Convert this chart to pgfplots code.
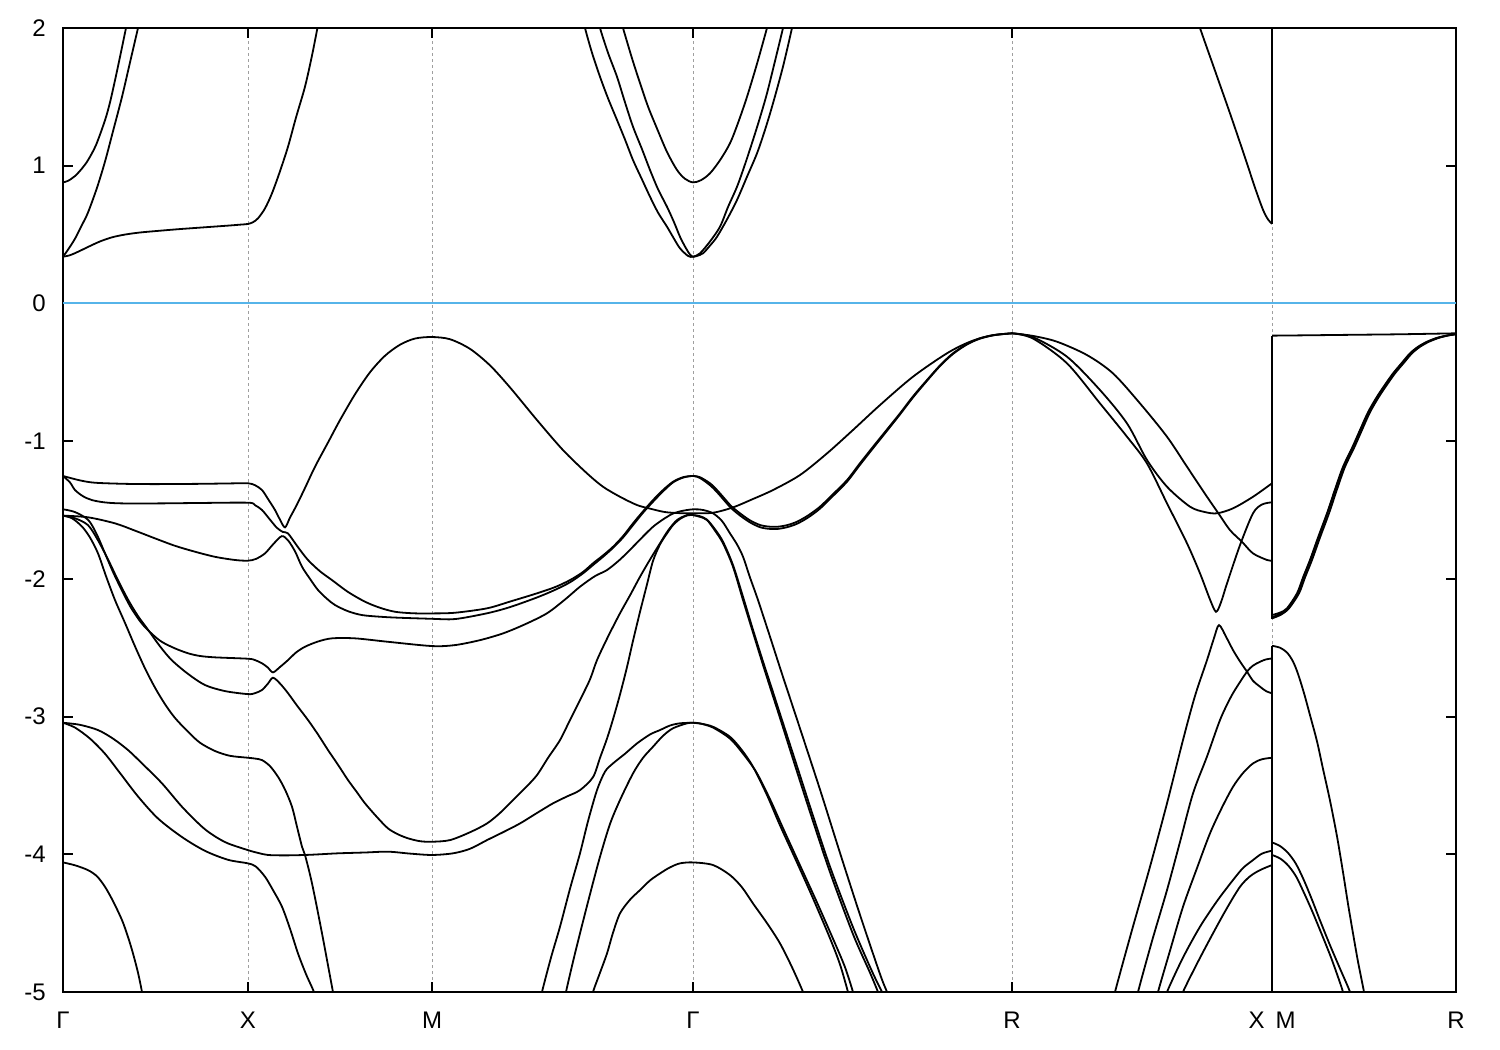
\documentclass[border=0pt]{standalone}
\usepackage{fontspec}
\setmainfont{Liberation Sans}
\usepackage{pgfplots}
\pgfplotsset{compat=1.18}
\definecolor{zeroblue}{RGB}{86,180,233}
\tikzset{band/.style={black, line width=0.9pt, smooth, tension=0.5},
         jump/.style={black, line width=0.9pt}}
\begin{document}
\fontsize{12}{14.4}\selectfont
\begin{tikzpicture}
\begin{axis}[
  scale only axis, width=696.5pt, height=482pt,
  xmin=63, xmax=1456, ymin=-5, ymax=2,
  axis line style={line width=1pt},
  tick style={line width=1pt, black}, major tick length=5pt,
  tick align=inside,
  xtick={63,248,432,693,1012,1272,1456},
  xticklabels={Γ,X,M,Γ,R,{X\hspace{5.5pt}M},R},
  ytick={-5,-4,-3,-2,-1,0,1,2},
  yticklabels={-5,-4,-3,-2,-1,0,1,2},
  xticklabel style={yshift=-6pt},
  yticklabel style={xshift=-4.5pt},
  xmajorgrids, grid style={gray!75, dash pattern=on 1.5pt off 1.5pt, line width=0.5pt},
]
\addplot[zeroblue, line width=1pt] coordinates {(63,0)(1456,0)};
% conduction bands
\addplot[band] coordinates {(63,0.339)(70,0.35)(78,0.375)(88,0.41)(100,0.45)(112,0.48)(125,0.50)(140,0.515)(160,0.528)(180,0.54)(205,0.553)(230,0.566)(240,0.572)(248,0.577)(253,0.59)(258,0.618)(265,0.69)(272,0.80)(280,0.96)(288,1.138)(296,1.35)(305,1.574)(312,1.80)(318,2.02)(320,2.08)};
\addplot[band] coordinates {(63,0.339)(68,0.39)(75,0.47)(82,0.57)(88,0.66)(97,0.84)(105,1.03)(113,1.25)(122,1.50)(130,1.75)(138,2.0)(140,2.07)};
\addplot[band] coordinates {(63,0.879)(68,0.89)(75,0.925)(82,0.98)(88,1.04)(96,1.15)(105,1.33)(110,1.46)(115,1.62)(120,1.79)(126,2.0)(128,2.07)};
\addplot[band] coordinates {(620,2.08)(623,2.0)(632,1.78)(640,1.60)(648,1.43)(657,1.27)(667,1.10)(677,0.969)(685,0.905)(693,0.879)(701,0.895)(710,0.945)(720,1.04)(730,1.163)(738,1.31)(747,1.50)(757,1.74)(767,2.0)(770,2.08)};
\addplot[band] coordinates {(583,2.08)(585,2.0)(592,1.82)(600,1.646)(608,1.49)(617,1.332)(625,1.19)(633,1.041)(642,0.90)(650,0.775)(658,0.66)(667,0.557)(674,0.47)(680,0.40)(688,0.345)(693,0.339)(700,0.364)(710,0.45)(720,0.557)(728,0.70)(737,0.847)(745,1.01)(753,1.187)(760,1.35)(767,1.526)(775,1.76)(783,2.0)(785,2.08)};
\addplot[band] coordinates {(598,2.08)(600,2.0)(608,1.82)(617,1.646)(625,1.46)(633,1.283)(642,1.12)(650,0.969)(658,0.83)(667,0.702)(674,0.59)(680,0.484)(686,0.40)(690,0.355)(693,0.339)(697,0.345)(703,0.364)(710,0.42)(717,0.484)(727,0.61)(737,0.751)(747,0.92)(757,1.09)(765,1.26)(773,1.453)(783,1.72)(792,2.0)(794,2.08)};
\addplot[band] coordinates {(1198,2.06)(1200,2.0)(1215,1.69)(1230,1.38)(1245,1.06)(1255,0.84)(1263,0.68)(1268,0.61)(1272,0.577)};
\addplot[jump] coordinates {(1272,0.577)(1272,2.1)};
% valence: Gamma-X-M-Gamma-R
\addplot[band] coordinates {(63,-1.253)(80,-1.285)(95,-1.302)(125,-1.31)(155,-1.312)(200,-1.31)(230,-1.307)(248,-1.306)(255,-1.32)(262,-1.355)(268,-1.42)(275,-1.50)(280,-1.57)(285,-1.626)(290,-1.555)(297,-1.46)(305,-1.34)(315,-1.186)(328,-1.01)(340,-0.847)(355,-0.66)(370,-0.50)(385,-0.38)(400,-0.30)(415,-0.255)(432,-0.244)(450,-0.26)(470,-0.33)(490,-0.45)(510,-0.61)(537,-0.847)(563,-1.065)(587,-1.234)(603,-1.331)(620,-1.404)(637,-1.464)(650,-1.49)(665,-1.515)(680,-1.523)(693,-1.524)(713,-1.52)(733,-1.481)(753,-1.42)(773,-1.355)(800,-1.246)(827,-1.089)(853,-0.919)(880,-0.738)(913,-0.532)(947,-0.362)(970,-0.278)(990,-0.235)(1012,-0.217)};
\addplot[band] coordinates {(63,-1.253)(70,-1.30)(75,-1.355)(83,-1.40)(92,-1.428)(105,-1.445)(122,-1.452)(160,-1.452)(200,-1.449)(248,-1.447)(255,-1.465)(262,-1.50)(270,-1.57)(277,-1.63)(283,-1.66)(288,-1.67)(298,-1.77)(308,-1.863)(320,-1.945)(332,-2.009)(348,-2.095)(365,-2.166)(380,-2.21)(395,-2.239)(413,-2.25)(432,-2.251)(455,-2.246)(487,-2.214)(510,-2.165)(537,-2.105)(555,-2.06)(570,-2.009)(583,-1.95)(593,-1.887)(603,-1.83)(613,-1.767)(623,-1.69)(633,-1.597)(643,-1.51)(653,-1.428)(663,-1.355)(673,-1.295)(683,-1.262)(693,-1.253)(700,-1.262)(710,-1.306)(717,-1.355)(723,-1.404)(731,-1.47)(740,-1.524)(750,-1.575)(760,-1.609)(768,-1.62)(777,-1.622)(787,-1.61)(797,-1.585)(808,-1.54)(820,-1.476)(833,-1.385)(847,-1.283)(860,-1.16)(873,-1.041)(887,-0.915)(900,-0.798)(913,-0.675)(927,-0.556)(940,-0.45)(953,-0.362)(967,-0.295)(980,-0.253)(995,-0.228)(1012,-0.217)};
\addplot[band] coordinates {(63,-1.541)(88,-1.553)(115,-1.597)(135,-1.65)(155,-1.706)(175,-1.76)(195,-1.803)(215,-1.84)(235,-1.863)(248,-1.868)(256,-1.855)(265,-1.815)(273,-1.75)(281.7,-1.69)(288,-1.72)(295,-1.80)(302,-1.912)(310,-2.0)(318,-2.081)(327,-2.145)(335,-2.19)(348,-2.235)(362,-2.263)(380,-2.275)(398,-2.282)(432,-2.29)(455,-2.292)(487,-2.25)(510,-2.205)(537,-2.135)(555,-2.08)(570,-2.025)(583,-1.96)(593,-1.90)(603,-1.84)(613,-1.775)(623,-1.70)(633,-1.61)(643,-1.52)(653,-1.44)(663,-1.365)(673,-1.30)(683,-1.265)(693,-1.253)(700,-1.268)(710,-1.32)(717,-1.37)(723,-1.42)(731,-1.485)(740,-1.54)(750,-1.59)(760,-1.625)(768,-1.636)(777,-1.638)(787,-1.625)(797,-1.60)(808,-1.555)(820,-1.49)(833,-1.398)(847,-1.295)(860,-1.172)(873,-1.052)(887,-0.925)(900,-0.806)(913,-0.683)(927,-0.562)(940,-0.455)(953,-0.367)(967,-0.298)(980,-0.256)(995,-0.229)(1012,-0.217)};
\addplot[band] coordinates {(63,-1.495)(75,-1.515)(88.3,-1.573)(97,-1.68)(105,-1.815)(113,-1.95)(121.7,-2.081)(131,-2.21)(141.7,-2.323)(152,-2.40)(161.7,-2.457)(175,-2.505)(188.3,-2.541)(200,-2.56)(215,-2.57)(248,-2.58)(255,-2.59)(262,-2.613)(268,-2.645)(273,-2.679)(280,-2.64)(288,-2.59)(296,-2.535)(305,-2.493)(318,-2.455)(332,-2.432)(355,-2.432)(388,-2.457)(432,-2.488)(455,-2.481)(480,-2.445)(503,-2.396)(525,-2.33)(547,-2.25)(565,-2.15)(580,-2.057)(595,-1.98)(607,-1.936)(620,-1.86)(633,-1.767)(653,-1.622)(670,-1.537)(680,-1.51)(693,-1.495)(703,-1.50)(713,-1.524)(722,-1.58)(730,-1.67)(737,-1.75)(743,-1.839)(750,-1.99)(758,-2.154)(770,-2.42)(782,-2.69)(797,-3.02)(820,-3.53)(840,-3.99)(860,-4.44)(880,-4.87)(887,-5.0)(890,-5.06)};
\addplot[band] coordinates {(63,-1.541)(75,-1.56)(88,-1.61)(98,-1.72)(108.3,-1.863)(118,-2.01)(128.3,-2.154)(138,-2.27)(148.3,-2.372)(160,-2.49)(171.7,-2.59)(188,-2.69)(205,-2.771)(225,-2.815)(248,-2.837)(255,-2.83)(262,-2.807)(268,-2.76)(273,-2.718)(280,-2.76)(288,-2.83)(297,-2.92)(308,-3.025)(318,-3.13)(328,-3.243)(338,-3.35)(348,-3.461)(357,-3.55)(365,-3.63)(377,-3.73)(388,-3.812)(398,-3.855)(408,-3.884)(420,-3.905)(432,-3.909)(450,-3.897)(470,-3.84)(487,-3.776)(500,-3.70)(513,-3.606)(525,-3.52)(537,-3.425)(548,-3.30)(560,-3.171)(570,-3.025)(580,-2.88)(590,-2.73)(597,-2.59)(608,-2.42)(620,-2.25)(630,-2.12)(640,-1.985)(650,-1.86)(660,-1.742)(668,-1.65)(677,-1.573)(687,-1.537)(693,-1.537)(700,-1.55)(707,-1.573)(715,-1.65)(723,-1.742)(733,-1.912)(743,-2.154)(753,-2.39)(763,-2.625)(772,-2.83)(780,-3.01)(797,-3.40)(813,-3.76)(830,-4.13)(853,-4.58)(870,-4.86)(878,-5.0)(881,-5.06)};
\addplot[band] coordinates {(63,-1.541)(72,-1.56)(82,-1.62)(90,-1.70)(98,-1.815)(106,-1.98)(115,-2.154)(125,-2.32)(135,-2.49)(145,-2.65)(155,-2.79)(165,-2.91)(175,-3.01)(188,-3.11)(200,-3.19)(215,-3.25)(230,-3.285)(248,-3.299)(255,-3.305)(262,-3.316)(270,-3.36)(278,-3.437)(285,-3.53)(292,-3.655)(297,-3.80)(302,-3.945)(305,-4.005)(312,-4.211)(322,-4.574)(333,-5.0)(335,-5.06)};
\addplot[band] coordinates {(63,-3.045)(80,-3.06)(98,-3.098)(113,-3.16)(128,-3.243)(142,-3.34)(162,-3.485)(182,-3.655)(202,-3.80)(215,-3.87)(228,-3.921)(248,-3.97)(258,-3.99)(268,-4.005)(285,-4.008)(305,-4.005)(320,-4.0)(338,-3.993)(365,-3.987)(388,-3.981)(410,-3.995)(432,-4.005)(453,-3.993)(470,-3.96)(487,-3.897)(503,-3.84)(520,-3.776)(537,-3.70)(553,-3.63)(567,-3.58)(580,-3.534)(593,-3.44)(600,-3.30)(607,-3.16)(613,-3.02)(620,-2.84)(627,-2.64)(633,-2.45)(640,-2.24)(647,-2.04)(653,-1.87)(660,-1.75)(667,-1.67)(673,-1.61)(680,-1.565)(687,-1.54)(693,-1.537)(700,-1.545)(707,-1.57)(715,-1.64)(723,-1.73)(733,-1.90)(743,-2.13)(753,-2.37)(763,-2.60)(772,-2.80)(780,-2.98)(797,-3.36)(813,-3.72)(830,-4.09)(853,-4.53)(872,-4.85)(882,-5.0)(885,-5.06)};
\addplot[band] coordinates {(63,-3.045)(75,-3.08)(90,-3.16)(105,-3.27)(120,-3.41)(138,-3.58)(158,-3.74)(182,-3.875)(205,-3.975)(228,-4.04)(248,-4.066)(256,-4.09)(265,-4.163)(273,-4.26)(282,-4.381)(290,-4.54)(298,-4.72)(306,-4.87)(314,-5.0)(316,-5.06)};
\addplot[band] coordinates {(63,-4.059)(75,-4.08)(88,-4.115)(97,-4.16)(105,-4.236)(113,-4.34)(122,-4.478)(128,-4.60)(133,-4.72)(138,-4.86)(142,-5.0)(143,-5.06)};
% M-Gamma lower and Gamma-R lower
\addplot[band] coordinates {(541,-5.06)(542,-5.0)(551,-4.75)(560,-4.526)(570,-4.25)(580,-3.993)(588,-3.76)(597,-3.534)(605,-3.40)(613,-3.34)(625,-3.27)(637,-3.195)(650,-3.13)(660,-3.098)(670,-3.065)(680,-3.049)(693,-3.045)(700,-3.05)(713,-3.074)(730,-3.147)(742,-3.245)(753,-3.364)(767,-3.57)(780,-3.79)(797,-4.06)(813,-4.32)(830,-4.61)(840,-4.80)(848,-5.0)(850,-5.06)};
\addplot[band] coordinates {(565,-5.06)(566,-5.0)(573,-4.78)(580,-4.574)(590,-4.29)(600,-4.018)(610,-3.78)(620,-3.606)(633,-3.413)(643,-3.30)(653,-3.219)(663,-3.14)(673,-3.085)(687,-3.049)(693,-3.045)(700,-3.05)(713,-3.08)(730,-3.16)(742,-3.26)(756,-3.40)(770,-3.60)(783,-3.81)(800,-4.08)(817,-4.35)(834,-4.63)(845,-4.82)(853,-5.0)(855,-5.06)};
\addplot[band] coordinates {(592,-5.06)(593,-5.0)(600,-4.86)(607,-4.72)(613,-4.57)(620,-4.429)(630,-4.33)(640,-4.26)(650,-4.19)(660,-4.139)(670,-4.095)(680,-4.066)(693,-4.059)(713,-4.078)(730,-4.151)(742,-4.24)(753,-4.357)(767,-4.50)(780,-4.647)(792,-4.82)(803,-5.0)(805,-5.06)};
% R-X upper
\addplot[band] coordinates {(1012,-0.217)(1033,-0.236)(1057,-0.278)(1087,-0.375)(1113,-0.508)(1140,-0.726)(1167,-0.968)(1187,-1.186)(1207,-1.404)(1218,-1.52)(1230,-1.646)(1242,-1.731)(1253,-1.815)(1267,-1.863)(1272,-1.868)};
\addplot[band] coordinates {(1012,-0.217)(1033,-0.245)(1067,-0.387)(1100,-0.629)(1127,-0.871)(1147,-1.137)(1167,-1.331)(1190,-1.476)(1205,-1.515)(1217,-1.524)(1233,-1.488)(1253,-1.404)(1272,-1.306)};
\addplot[band] coordinates {(1012,-0.217)(1033,-0.255)(1067,-0.435)(1100,-0.726)(1127,-0.968)(1147,-1.162)(1167,-1.452)(1187,-1.742)(1200,-1.96)(1210,-2.15)(1216,-2.239)(1221,-2.17)(1227,-2.033)(1240,-1.755)(1253,-1.524)(1262,-1.46)(1272,-1.444)};
% R-X lower
\addplot[band] coordinates {(1114,-5.06)(1115,-5.0)(1132,-4.55)(1150,-4.09)(1167,-3.63)(1183,-3.17)(1195,-2.85)(1207,-2.59)(1214,-2.43)(1219,-2.336)(1226,-2.42)(1233,-2.517)(1240,-2.60)(1247,-2.674)(1253,-2.74)(1260,-2.783)(1266,-2.815)(1272,-2.831)};
\addplot[band] coordinates {(1137,-5.06)(1138,-5.0)(1152,-4.63)(1167,-4.26)(1180,-3.91)(1193,-3.558)(1207,-3.29)(1220,-3.025)(1230,-2.87)(1237,-2.783)(1247,-2.674)(1253,-2.63)(1260,-2.602)(1266,-2.585)(1272,-2.578)};
\addplot[band] coordinates {(1157,-5.06)(1158,-5.0)(1170,-4.70)(1183,-4.381)(1197,-4.10)(1210,-3.848)(1222,-3.66)(1233,-3.51)(1243,-3.41)(1253,-3.34)(1262,-3.31)(1272,-3.299)};
\addplot[band] coordinates {(1166,-5.06)(1167,-5.0)(1183,-4.75)(1200,-4.526)(1217,-4.34)(1233,-4.187)(1243,-4.10)(1253,-4.042)(1262,-3.995)(1272,-3.974)};
\addplot[band] coordinates {(1182,-5.06)(1183,-5.0)(1198,-4.78)(1213,-4.574)(1227,-4.39)(1240,-4.236)(1250,-4.16)(1260,-4.115)(1272,-4.078)};
% jumps at X|M
\addplot[jump] coordinates {(1272,-0.234)(1272,-2.29)};
\addplot[jump] coordinates {(1272,-2.486)(1272,-5.1)};
% M-R
\addplot[band] coordinates {(1272,-0.234)(1300,-0.232)(1350,-0.228)(1400,-0.224)(1456,-0.217)};
\addplot[band] coordinates {(1272,-2.263)(1280,-2.245)(1287,-2.214)(1297,-2.105)(1303,-1.99)(1310,-1.863)(1318,-1.70)(1327,-1.524)(1335,-1.35)(1343,-1.186)(1352,-1.05)(1360,-0.919)(1368,-0.79)(1377,-0.677)(1385,-0.59)(1393,-0.508)(1402,-0.43)(1410,-0.362)(1418,-0.315)(1427,-0.278)(1437,-0.25)(1447,-0.233)(1456,-0.222)};
\addplot[band] coordinates {(1272,-2.287)(1281,-2.26)(1289,-2.214)(1299,-2.105)(1305,-1.99)(1312,-1.863)(1320,-1.70)(1329,-1.524)(1337,-1.35)(1345,-1.186)(1354,-1.05)(1362,-0.919)(1370,-0.79)(1379,-0.677)(1387,-0.59)(1395,-0.508)(1404,-0.43)(1412,-0.362)(1420,-0.315)(1429,-0.278)(1439,-0.25)(1448,-0.233)(1456,-0.224)};
\addplot[band] coordinates {(1272,-2.28)(1281,-2.25)(1288,-2.21)(1298,-2.10)(1304,-1.98)(1311,-1.85)(1319,-1.69)(1328,-1.51)(1336,-1.34)(1344,-1.18)(1353,-1.04)(1361,-0.91)(1369,-0.785)(1378,-0.672)(1386,-0.585)(1394,-0.505)(1403,-0.428)(1411,-0.36)(1419,-0.313)(1428,-0.277)(1438,-0.249)(1448,-0.232)(1456,-0.223)};
\addplot[band] coordinates {(1272,-2.486)(1280,-2.50)(1287,-2.535)(1293,-2.60)(1298,-2.69)(1304,-2.83)(1310,-2.99)(1317,-3.18)(1323,-3.38)(1330,-3.61)(1337,-3.87)(1343,-4.13)(1348,-4.36)(1353,-4.574)(1358,-4.78)(1364,-5.0)(1365,-5.06)};
\addplot[band] coordinates {(1272,-3.914)(1280,-3.94)(1288,-3.99)(1296,-4.07)(1304,-4.19)(1312,-4.33)(1320,-4.48)(1330,-4.66)(1340,-4.83)(1350,-5.0)(1351,-5.06)};
\addplot[band] coordinates {(1272,-4.005)(1280,-4.03)(1288,-4.08)(1296,-4.16)(1304,-4.28)(1312,-4.41)(1320,-4.55)(1330,-4.73)(1337,-4.87)(1343,-5.0)(1344,-5.06)};
\end{axis}
\path ([xshift=-31.5pt,yshift=-29pt]current axis.south west) rectangle ([xshift=22pt,yshift=14pt]current axis.north east);
\end{tikzpicture}
\end{document}
